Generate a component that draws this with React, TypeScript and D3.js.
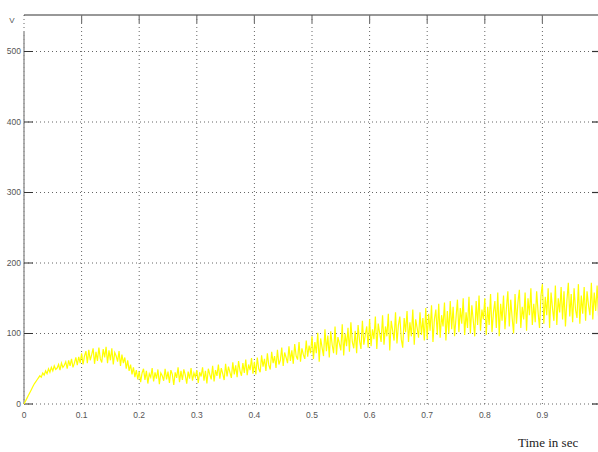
import React from "react";
import * as d3 from "d3";

const width = 598;
const height = 452;
const plot = { left: 24, right: 600, top: 15, bottom: 404, yTop500: 51.5 };

const xTicks = [0, 0.1, 0.2, 0.3, 0.4, 0.5, 0.6, 0.7, 0.8, 0.9];
const yTicks = [0, 100, 200, 300, 400, 500];
const sampleStep = 0.0025; // seconds between samples

// voltage samples
const riseAndHump = [
  0, 4, 8, 12, 16, 20, 24, 28, 31, 34, 37, 40, 38, 44, 41, 47, 43, 50, 45, 52,
  47, 54, 49, 51, 56, 48, 58, 52, 55, 60, 50, 62, 54, 64, 52, 58, 66, 55, 67, 58,
  72, 56, 68, 75, 58, 77, 62, 70, 79, 57, 74, 61, 80, 64, 59, 78, 66, 81, 58, 76,
  62, 79, 56, 73, 68, 60, 75, 54, 70, 58, 66, 50, 62, 47, 56, 42, 52, 38, 48, 35,
];
const dip = [
  46, 31, 44, 50, 34, 47, 29, 43, 38, 51, 32, 45, 36, 49, 28, 44, 40, 33, 50, 35,
  46, 30, 48, 42, 27, 45, 37, 52, 31, 47, 34, 49, 41, 29, 46, 36, 51, 33, 44, 38,
  48, 30, 45, 39, 52, 33, 47, 29, 50, 42, 35, 54, 32, 48, 40, 56, 36, 51, 43, 34,
  57, 39, 53, 45, 37, 59, 42, 55, 38, 61, 47, 40, 58, 44, 63, 41, 56, 48, 65, 43,
];
const climb = [
  60, 42, 66, 50, 45, 69, 53, 64, 47, 72, 55, 49, 74, 58, 68, 51, 77, 56, 62, 80,
  54, 73, 66, 58, 82, 61, 76, 57, 85, 68, 63, 88, 60, 79, 70, 64, 90, 67, 83, 72,
  96, 64, 88, 72, 101, 60, 93, 80, 68, 106, 75, 97, 66, 103, 84, 72, 110, 70, 95, 86,
  76, 113, 69, 100, 82, 108, 74, 116, 88, 79, 104, 72, 112, 90, 78, 118, 84, 98, 110, 80,
  120, 82, 106, 92, 124, 78, 114, 100, 88, 126, 84, 110, 96, 128, 76, 118, 104, 90, 130, 86,
  112, 124, 92, 80, 122, 102, 132, 88, 116, 96, 134, 84, 120, 108, 94, 130, 98, 122, 90, 136,
];
const plateau = [
  92, 128, 104, 140, 88, 120, 134, 98, 142, 94, 126, 110, 144, 90, 132, 100, 146, 106, 138, 96,
  122, 148, 102, 136, 114, 150, 98, 130, 108, 152, 100, 140, 118, 96, 146, 112, 154, 104, 134, 120,
  150, 98, 138, 112, 156, 102, 130, 146, 108, 158, 96, 142, 118, 154, 106, 136, 160, 110, 148, 122,
  100, 156, 114, 144, 162, 108, 138, 120, 158, 104, 150, 126, 164, 112, 142, 116, 160, 130, 108, 154,
  170, 114, 152, 126, 164, 108, 158, 136, 118, 168, 112, 150, 130, 166, 120, 160, 110, 146, 172, 124,
  156, 116, 164, 134, 122, 170, 114, 154, 128, 166, 118, 160, 140, 126, 172, 120, 158, 132, 168, 124,
];

const voltage = [...riseAndHump, ...dip, ...climb, ...plateau];

export default function App() {
  const x = d3.scaleLinear().domain([0, 1]).range([plot.left, plot.right]);
  const y = d3.scaleLinear().domain([0, 500]).range([plot.bottom, plot.yTop500]);

  const line = d3
    .line<number>()
    .x((d, i) => x(i * sampleStep))
    .y(d => y(d))
    .curve(d3.curveLinear);

  const grid = "#666";
  const dark = "#333";

  return (
    <svg
      width={width}
      height={height}
      style={{ position: "absolute", left: 0, top: 0, background: "#fff" }}
    >
      <rect width={width} height={height} fill="#fff" />
      {/* grid */}
      {xTicks.map(t => (
        <line
          key={"gx" + t}
          x1={x(t)}
          x2={x(t)}
          y1={plot.top}
          y2={plot.bottom}
          stroke={grid}
          strokeWidth={1}
          strokeDasharray="1,3"
        />
      ))}
      {yTicks.map(t => (
        <line
          key={"gy" + t}
          x1={plot.left}
          x2={plot.right}
          y1={y(t)}
          y2={y(t)}
          stroke={grid}
          strokeWidth={1}
          strokeDasharray="1,3"
        />
      ))}
      {/* frame */}
      <line x1={plot.left} x2={plot.right} y1={plot.top} y2={plot.top} stroke={dark} strokeWidth={1.2} />
      <line x1={plot.left} x2={plot.left} y1={32} y2={plot.bottom} stroke="#999" strokeWidth={1.5} />
      {xTicks.slice(1).map(t => (
        <line key={"tt" + t} x1={x(t)} x2={x(t)} y1={plot.top} y2={plot.top + 8} stroke="#777" strokeWidth={1.2} />
      ))}
      {yTicks.map(t => (
        <g key={"ty" + t}>
          <line x1={plot.left} x2={plot.left + 9} y1={y(t)} y2={y(t)} stroke={dark} strokeWidth={1} />
          <line x1={plot.right - 8} x2={plot.right} y1={y(t)} y2={y(t)} stroke={dark} strokeWidth={1.2} />
        </g>
      ))}
      {/* signal */}
      <path d={line(voltage) ?? ""} fill="none" stroke="#ffff00" strokeWidth={1.2} />
      {/* labels */}
      <g fontFamily="Arial, Liberation Sans, sans-serif" fontSize={8.5} fill="#555">
        {yTicks.map(t => (
          <text key={"ly" + t} x={plot.left - 3} y={y(t)} dy="0.35em" textAnchor="end">
            {t}
          </text>
        ))}
        {xTicks.map(t => (
          <text key={"lx" + t} x={x(t)} y={418} textAnchor="middle">
            {t}
          </text>
        ))}
        <text x={12} y={23} textAnchor="middle" fontSize={8}>
          V
        </text>
      </g>
      <text x={518} y={447} fontFamily="Liberation Serif, Times New Roman, serif" fontSize={13} fill="#222">
        Time in sec
      </text>
    </svg>
  );
}
